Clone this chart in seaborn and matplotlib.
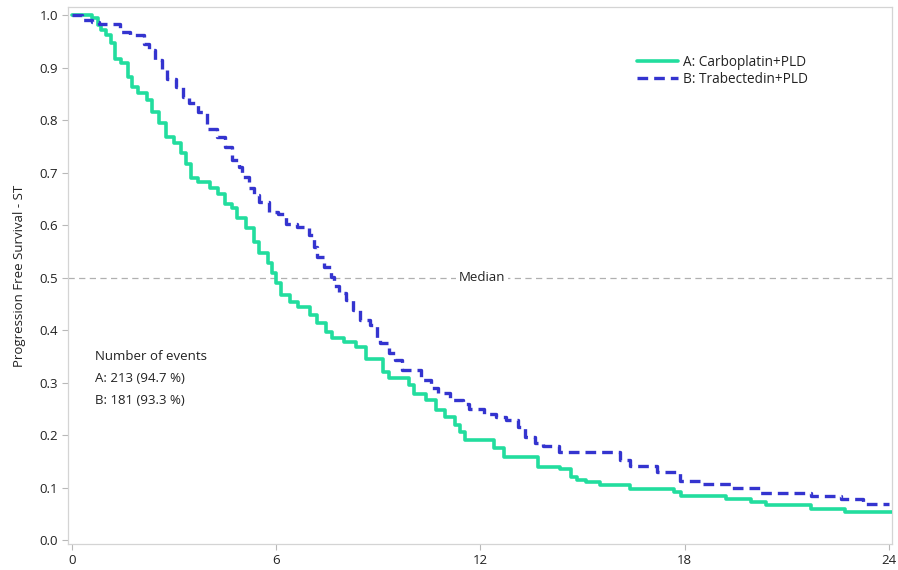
import pandas as pd
import matplotlib
matplotlib.use("Agg")
import matplotlib.pyplot as plt
import seaborn as sns

# Kaplan-Meier step values (months, survival)
time_a = [0, 0.6, 0.77, 0.85, 1.0, 1.15, 1.25, 1.45, 1.65, 1.75, 1.95, 2.2, 2.35, 2.55,
          2.75, 3.0, 3.2, 3.35, 3.5, 3.7, 4.05, 4.3, 4.5, 4.7, 4.85, 5.1, 5.35, 5.5,
          5.75, 5.87, 6.0, 6.15, 6.4, 6.65, 7.0, 7.2, 7.45, 7.65, 8.0, 8.35, 8.65,
          9.15, 9.3, 9.9, 10.05, 10.4, 10.7, 10.95, 11.25, 11.4, 11.55, 12.4, 12.7,
          13.7, 14.35, 14.65, 14.85, 15.1, 15.5, 16.4, 17.7, 17.9, 19.2, 19.95, 20.4,
          21.7, 22.7, 24.1]
surv_a = [1.0, 0.994, 0.981, 0.971, 0.962, 0.947, 0.917, 0.908, 0.882, 0.863, 0.851,
          0.838, 0.816, 0.794, 0.768, 0.756, 0.737, 0.717, 0.689, 0.683, 0.670, 0.660,
          0.641, 0.632, 0.613, 0.594, 0.568, 0.546, 0.527, 0.508, 0.489, 0.467, 0.454,
          0.444, 0.429, 0.413, 0.397, 0.384, 0.378, 0.368, 0.345, 0.320, 0.308, 0.295,
          0.279, 0.267, 0.248, 0.235, 0.219, 0.206, 0.190, 0.175, 0.159, 0.140, 0.136,
          0.121, 0.114, 0.111, 0.105, 0.098, 0.091, 0.084, 0.078, 0.072, 0.066, 0.060,
          0.054, 0.054]

time_b = [0, 0.3, 0.6, 0.8, 1.4, 1.7, 2.1, 2.25, 2.45, 2.65, 2.8, 3.05, 3.25, 3.45,
          3.7, 3.95, 4.25, 4.5, 4.7, 4.9, 5.0, 5.2, 5.35, 5.5, 5.8, 6.05, 6.3, 6.6,
          6.95, 7.1, 7.2, 7.4, 7.6, 7.7, 7.85, 8.05, 8.25, 8.45, 8.75, 8.95, 9.05,
          9.3, 9.5, 9.7, 10.25, 10.55, 10.75, 11.1, 11.5, 11.65, 12.1, 12.45, 12.75,
          13.1, 13.3, 13.6, 13.85, 14.3, 16.1, 16.4, 17.2, 17.85, 18.5, 19.4, 20.2,
          21.7, 22.6, 23.25, 24.0]
surv_b = [1.0, 0.99, 0.987, 0.983, 0.968, 0.962, 0.945, 0.933, 0.914, 0.895, 0.879,
          0.863, 0.844, 0.832, 0.816, 0.784, 0.768, 0.749, 0.724, 0.710, 0.692, 0.670,
          0.657, 0.644, 0.625, 0.622, 0.603, 0.596, 0.581, 0.559, 0.540, 0.521, 0.502,
          0.483, 0.470, 0.457, 0.438, 0.419, 0.410, 0.381, 0.375, 0.356, 0.343, 0.324,
          0.305, 0.289, 0.281, 0.267, 0.260, 0.250, 0.241, 0.235, 0.229, 0.216, 0.197,
          0.184, 0.179, 0.168, 0.152, 0.141, 0.130, 0.113, 0.106, 0.100, 0.089, 0.083,
          0.078, 0.069, 0.069]

labels = ["A: Carboplatin+PLD", "B: Trabectedin+PLD"]
events = ["A: 213 (94.7 %)", "B: 181 (93.3 %)"]
x_ticks = [0, 6, 12, 18, 24]
y_ticks = [0.0, 0.1, 0.2, 0.3, 0.4, 0.5, 0.6, 0.7, 0.8, 0.9, 1.0]

sns.set_style("white")
plt.rcParams["font.family"] = ["Open Sans", "DejaVu Sans"]

df_a = pd.DataFrame({"time": time_a, "surv": surv_a})
df_b = pd.DataFrame({"time": time_b, "surv": surv_b})

fig = plt.figure(figsize=(8.98, 5.70), dpi=100)
ax = fig.add_axes([0.0757, 0.0456, 0.9176, 0.9414])

# median reference line
ax.axhline(0.5, color="#b0b0b0", lw=0.9, ls=(0, (5, 3.5)), zorder=1)
ax.text(12.05, 0.5, "Median", ha="center", va="center", fontsize=9.5, color="#222222",
        bbox=dict(fc="white", ec="none", pad=2), zorder=2)

sns.lineplot(data=df_a, x="time", y="surv", ax=ax, color="#22dd9e", lw=2.6,
             drawstyle="steps-post", label=labels[0], zorder=3)
sns.lineplot(data=df_b, x="time", y="surv", ax=ax, color="#3434cf", lw=2.4,
             drawstyle="steps-post", label=labels[1], zorder=4)
ax.lines[-1].set_linestyle((0, (3.2, 1.8)))

ax.set_xlim(-0.12, 24.09)
ax.set_ylim(-0.0076, 1.0147)
ax.set_xticks(x_ticks)
ax.set_yticks(y_ticks)
ax.set_yticklabels([f"{v:.1f}" for v in y_ticks])
ax.set_xlabel("")
ax.set_ylabel("Progression Free Survival - ST", fontsize=9.5, color="#222222", labelpad=10)
ax.tick_params(axis="both", which="both", direction="out", length=4, width=0.8,
               color="#b8b8b8", labelsize=9.5, labelcolor="#222222", pad=3,
               bottom=True, left=True)
for sp in ax.spines.values():
    sp.set_color("#d4d4d4")
    sp.set_linewidth(0.9)

leg = ax.legend(loc="upper right", bbox_to_anchor=(0.905, 0.922), frameon=False,
                fontsize=9.8, handlelength=3.0, handletextpad=0.4, labelspacing=0.15,
                borderaxespad=0)
for t in leg.get_texts():
    t.set_color("#222222")

ax.text(0.68, 0.35, "Number of events", fontsize=9.5, color="#222222", ha="left", va="center")
ax.text(0.68, 0.307, events[0], fontsize=9.5, color="#222222", ha="left", va="center")
ax.text(0.68, 0.265, events[1], fontsize=9.5, color="#222222", ha="left", va="center")

fig.savefig("out.png", dpi=100)
